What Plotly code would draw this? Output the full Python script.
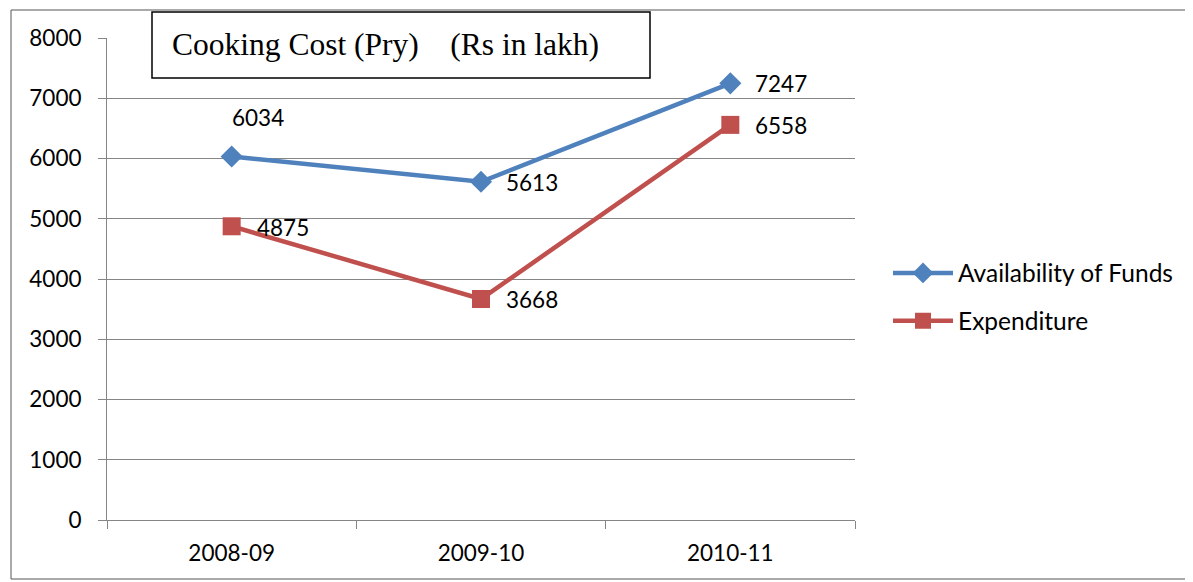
import plotly.graph_objects as go

categories = ["2008-09", "2009-10", "2010-11"]
availability = [6034, 5613, 7247]
expenditure = [4875, 3668, 6558]
title_text = "Cooking Cost (Pry)    (Rs in lakh)"

# the page body has an 8px margin, so screen coords = figure coords + 8
OFF = 8
W, H = 1193 - OFF, 582 - OFF
L, T = 107 - OFF, 38 - OFF
R = W - (855 - OFF)
B = H - (520 - OFF)
pw, ph = W - L - R, H - T - B

def px(x):
    return (x - OFF - L) / pw

def py(y):
    return 1 - (y - OFF - T) / ph

blue = "#4F81BD"
red = "#C0504D"
FONT = "Lato, Open Sans, sans-serif"
lab_font = dict(family=FONT, size=22.5, color="black")

fig = go.Figure()
fig.add_trace(go.Scatter(
    x=categories, y=availability, name="Availability of Funds", mode="lines+markers",
    line=dict(color=blue, width=4.5), marker=dict(symbol="diamond", size=17, color=blue),
    legendgroup="a"))
fig.add_trace(go.Scatter(
    x=categories, y=expenditure, name="Expenditure", mode="lines+markers",
    line=dict(color=red, width=4.5), marker=dict(symbol="square", size=18, color=red),
    legendgroup="b"))

anns = []
offs_a = [(-2, 39), (23, -1), (23, 0)]
offs_b = [(23, -1), (23, 0), (23, -1)]
for c, v, (dx, dy) in zip(categories, availability, offs_a):
    anns.append(dict(x=c, y=v, text=str(v), showarrow=False, xanchor="left", yanchor="middle",
                     xshift=dx, yshift=dy, font=lab_font))
for c, v, (dx, dy) in zip(categories, expenditure, offs_b):
    anns.append(dict(x=c, y=v, text=str(v), showarrow=False, xanchor="left", yanchor="middle",
                     xshift=dx, yshift=dy, font=lab_font))
anns.append(dict(xref="paper", yref="paper", x=px(170), y=py(45), text=title_text,
                 showarrow=False, xanchor="left", yanchor="middle",
                 font=dict(family="Liberation Serif, Times New Roman, serif", size=31.5, color="black")))

shapes = [
    dict(type="rect", xref="paper", yref="paper", x0=px(11), x1=px(1190), y0=py(579), y1=py(10),
         line=dict(color="#555555", width=1), fillcolor="rgba(0,0,0,0)", layer="below"),
    dict(type="rect", xref="paper", yref="paper", x0=px(152), x1=px(650), y0=py(78), y1=py(12),
         line=dict(color="black", width=1.5), fillcolor="white", layer="above"),
]

fig.update_layout(
    width=W, height=H, margin=dict(l=L, r=R, t=T, b=B, autoexpand=False),
    paper_bgcolor="white", plot_bgcolor="white",
    showlegend=True,
    legend=dict(x=px(888), y=py(297), xanchor="left", yanchor="middle",
                font=dict(family=FONT, size=24.5, color="black"),
                traceorder="grouped", tracegroupgap=13, itemwidth=60),
    xaxis=dict(type="category", range=[-0.5, 2.5], tickson="boundaries", ticks="outside",
               ticklen=8, tickcolor="#868686", showline=True, linecolor="#868686", linewidth=1,
               showgrid=False, tickfont=dict(family=FONT, size=22.5, color="black"),
               ticklabelstandoff=13, fixedrange=True),
    yaxis=dict(range=[0, 8000], dtick=1000, ticks="outside", ticklen=8, tickcolor="#868686",
               showline=True, linecolor="#868686", linewidth=1, showgrid=True, gridcolor="#868686",
               gridwidth=1, zeroline=False, ticklabelstandoff=12,
               tickfont=dict(family=FONT, size=22.5, color="black")),
    annotations=anns, shapes=shapes,
)

fig.write_html("out.html")
